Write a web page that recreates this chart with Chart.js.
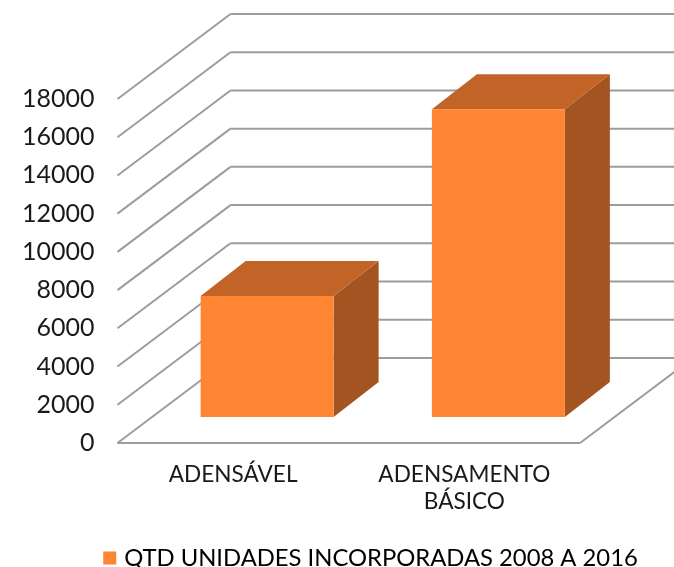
<!DOCTYPE html>
<html>
<head>
<meta charset="utf-8">
<style>
  html, body { margin: 0; padding: 0; background: #fff; overflow: hidden; }
  #wrap { width: 674px; height: 567px; }
</style>
<script src="https://cdn.jsdelivr.net/npm/chart.js@4"></script>
</head>
<body>
<div id="wrap"><canvas id="myChart"></canvas></div>
<script>
var categories = ['ADENSÁVEL', ['ADENSAMENTO', 'BÁSICO']];
var seriesName = 'QTD UNIDADES INCORPORADAS 2008 A 2016';
var seriesValues = [6330, 16100];

var FONT = 'Lato, sans-serif';
var TEXT = '#1a1a1a';
var GRID = '#9c9c9c';
var FRONT = '#ff8533';
var TOP = '#c26328';
var SIDE = '#a35420';

// depth of the floor and how far the bars sit into it
var wallDx = 113, wallDy = 85;
var barShiftX = 34, barShiftY = 26;
var barDx = 45, barDy = 35;
var legendShiftX = 79, legendShiftY = 17;

function line(ctx, x1, y1, x2, y2) {
    ctx.beginPath();
    ctx.moveTo(x1, y1);
    ctx.lineTo(x2, y2);
    ctx.stroke();
}

function poly(ctx, pts, color) {
    ctx.fillStyle = color;
    ctx.beginPath();
    ctx.moveTo(pts[0][0], pts[0][1]);
    for (var i = 1; i < pts.length; i++) ctx.lineTo(pts[i][0], pts[i][1]);
    ctx.closePath();
    ctx.fill();
}

var walls = {
    id: 'walls',
    afterLayout: function(chart) {
        // legend sits further right and lower than the layout puts it
        chart.legend.left += legendShiftX;
        chart.legend.right += legendShiftX;
        chart.legend.top += legendShiftY;
        chart.legend.bottom += legendShiftY;
    },
    beforeDatasetsDraw: function(chart) {
        var ctx = chart.ctx, area = chart.chartArea, y = chart.scales.y;
        ctx.save();
        ctx.strokeStyle = GRID;
        ctx.lineWidth = 2;
        y.ticks.forEach(function(t) {
            var py = y.getPixelForValue(t.value);
            line(ctx, area.left, py, area.left + wallDx, py - wallDy);
            line(ctx, area.left + wallDx, py - wallDy, area.right + wallDx, py - wallDy);
        });
        var py0 = y.getPixelForValue(0);
        line(ctx, area.left, py0, area.right, py0);
        line(ctx, area.right, py0, area.right + wallDx, py0 - wallDy);
        ctx.restore();

        // side and top of each bar, then shift so the front face lands on the floor
        var meta = chart.getDatasetMeta(0);
        ctx.save();
        ctx.translate(barShiftX, -barShiftY);
        meta.data.forEach(function(bar) {
            var l = bar.x - bar.width / 2, r = bar.x + bar.width / 2;
            poly(ctx, [[r, bar.y], [r + barDx, bar.y - barDy], [r + barDx, bar.base - barDy], [r, bar.base]], SIDE);
            poly(ctx, [[l, bar.y], [l + barDx, bar.y - barDy], [r + barDx, bar.y - barDy], [r, bar.y]], TOP);
        });
        ctx.restore();
        ctx.save();
        ctx.translate(barShiftX, -barShiftY);
    },
    afterDatasetsDraw: function(chart) {
        chart.ctx.restore();
    }
};

new Chart(document.getElementById('myChart'), {
    type: 'bar',
    data: {
        labels: categories,
        datasets: [{
            label: seriesName,
            data: seriesValues,
            backgroundColor: FRONT,
            barPercentage: 0.575,
            categoryPercentage: 1
        }]
    },
    options: {
        responsive: true,
        maintainAspectRatio: false,
        animation: false,
        layout: { padding: { top: 99, right: 94, bottom: 4, left: 7 } },
        plugins: {
            tooltip: { enabled: false },
            legend: {
                position: 'bottom',
                labels: {
                    // thin box + thick stroke: the gap to the text is tighter than the default
                    boxWidth: 5,
                    boxHeight: 5,
                    padding: 4,
                    color: TEXT,
                    font: { family: FONT, size: 23.8 },
                    generateLabels: function() {
                        return [{ text: seriesName, fillStyle: FRONT, strokeStyle: FRONT, lineWidth: 8, datasetIndex: 0 }];
                    }
                }
            }
        },
        scales: {
            x: {
                grid: { display: false },
                border: { display: false },
                ticks: {
                    color: TEXT,
                    maxRotation: 0,
                    padding: 10,
                    font: { family: FONT, size: 22.6, lineHeight: 1.2 }
                }
            },
            y: {
                min: 0,
                max: 18000,
                grid: { display: false },
                border: { display: false },
                ticks: {
                    stepSize: 2000,
                    padding: 15,
                    color: TEXT,
                    font: { family: FONT, size: 25 },
                    callback: function(v) { return String(v); }
                }
            }
        }
    },
    plugins: [walls]
});
</script>
</body>
</html>
